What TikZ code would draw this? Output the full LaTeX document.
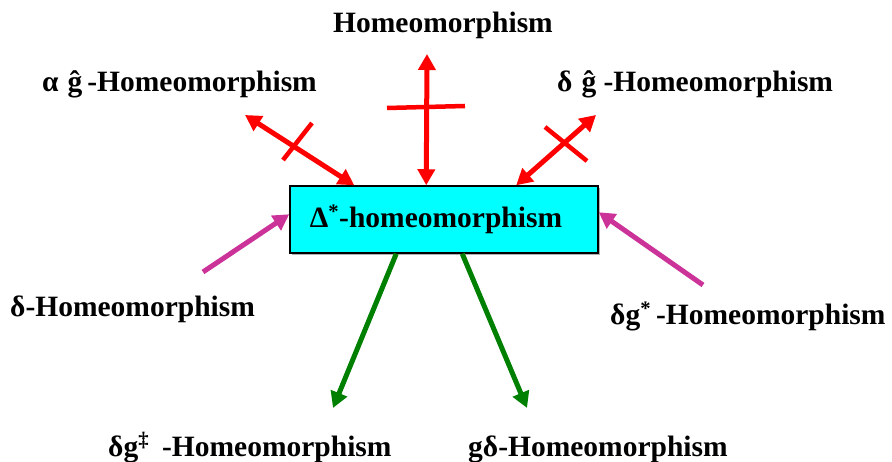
\documentclass[tikz,border=0pt]{standalone}
\usepackage{fontspec}
\setmainfont{Liberation Serif}
\usetikzlibrary{arrows.meta,calc,shadows}
\definecolor{boxcyan}{HTML}{00FFFF}
\definecolor{arrred}{HTML}{FF0000}
\definecolor{arrmag}{HTML}{CC3399}
\definecolor{arrgreen}{HTML}{008000}
\begin{document}
\begin{tikzpicture}[x=1pt,y=-1pt,
  lbl/.style={inner sep=0pt,anchor=base west,font=\bfseries\fontsize{29.5}{32}\selectfont},
  mainbox/.style={draw=black,line width=1.5pt,fill=boxcyan,minimum width=308pt,minimum height=67pt,
    inner sep=0pt,font=\bfseries\fontsize{29.5}{32}\selectfont,
    drop shadow={shadow xshift=2pt,shadow yshift=-2pt,fill=gray!60,opacity=1}},
  redarr/.style={draw=arrred,line width=5pt,{Triangle[length=16pt,width=17pt]}-{Triangle[length=16pt,width=17pt]}},
  crossbar/.style={draw=arrred,line width=4.5pt},
  magarr/.style={draw=arrmag,line width=5pt,-{Triangle[length=16pt,width=17pt]}},
  grnarr/.style={draw=arrgreen,line width=5pt,-{Triangle[length=16pt,width=17pt]}}]
\useasboundingbox (0,0) rectangle (892,462);

\node[mainbox] (box) at (444,219.5) {\hspace*{-16pt}Δ\textsuperscript{*}-homeomorphism};

\node[lbl] (top) at (333,33) {Homeomorphism};
\node[lbl] (agh) at (42,92) {α\hspace{9pt}ĝ\hspace{5pt}-Homeomorphism};
\node[lbl] (dgh) at (557,92) {δ\hspace{9pt}ĝ -Homeomorphism};
\node[lbl] (dh) at (10,317) {δ-Homeomorphism};
\node[lbl] (dgs) at (610,325) {δg\textsuperscript{*}\hspace{5pt}-Homeomorphism};
\node[lbl] (dgd) at (108,456) {δg\textsuperscript{‡}\hspace{13pt}-Homeomorphism};
\node[lbl] (gdh) at (468,456) {gδ-Homeomorphism};

\coordinate (tAL) at (245,115);
\coordinate (tT) at (427,54);
\coordinate (tAR) at (596,115);
\coordinate (sML) at (203,272);
\coordinate (sMR) at (703,285);
\coordinate (tGL) at (333,408);
\coordinate (tGR) at (527,408);

\draw[redarr] ($(box.north west)+(65,0)$) -- (tAL);
\draw[redarr] ($(box.north west)+(137,0)$) -- (tT);
\draw[redarr] ($(box.north west)+(227,0)$) -- (tAR);

\draw[crossbar] (283,160) -- (312,123);
\draw[crossbar] (387,108) -- (465,106);
\draw[crossbar] (545,127) -- (587,161);

\draw[magarr] (sML) -- ($(box.north west)+(0,29)$);
\draw[magarr] (sMR) -- ($(box.north east)+(0,27)$);

\draw[grnarr] ($(box.south west)+(107,0)$) -- (tGL);
\draw[grnarr] ($(box.south west)+(173,0)$) -- (tGR);
\end{tikzpicture}
\end{document}
